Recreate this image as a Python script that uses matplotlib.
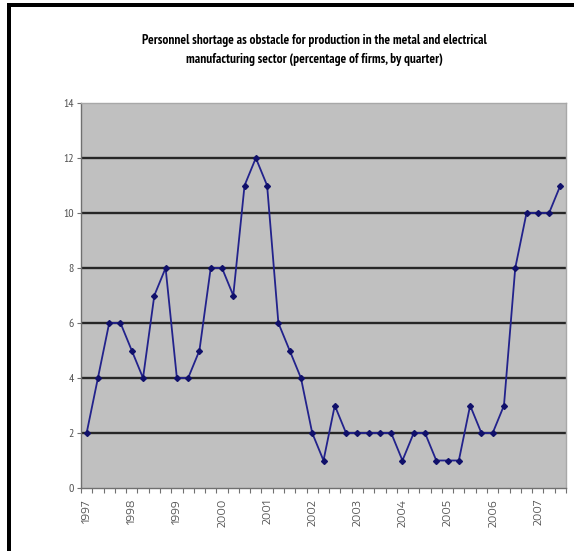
import numpy as np
import matplotlib
matplotlib.use('Agg')
import matplotlib.pyplot as plt
from matplotlib.patches import Rectangle

# share of firms reporting personnel shortage, quarterly 1997Q1 - 2007Q3
shortage = [2, 4, 6, 6, 5, 4, 7, 8, 4, 4, 5, 8, 8, 7, 11, 12, 11,
            6, 5, 4, 2, 1, 3, 2, 2, 2, 2, 2, 1, 2, 2, 1, 1, 1, 3, 2,
            2, 3, 8, 10, 10, 10, 11]
years = ['1997', '1998', '1999', '2000', '2001', '2002', '2003',
         '2004', '2005', '2006', '2007']
yticks = [0, 2, 4, 6, 8, 10, 12, 14]

title = ('Personnel shortage as obstacle for production in the metal and electrical\n'
         'manufacturing sector (percentage of firms, by quarter)')

plt.rcParams['font.family'] = ['PT Sans Narrow', 'DejaVu Sans']

fig = plt.figure(figsize=(5.74, 5.51), dpi=100)
ax = fig.add_axes([81 / 574, 1 - 488 / 551, 485 / 574, 385 / 551])

x = np.arange(len(shortage))
ax.set_facecolor('#c0c0c0')
ax.plot(x, shortage, color='#22228c', linewidth=1.3, marker='D',
        markersize=3, markerfacecolor='#10106a', markeredgecolor='#10106a',
        zorder=3)

ax.set_xlim(-0.5, len(shortage) - 0.5)
ax.set_ylim(0, 14)

# horizontal gridlines, heavy and dark
for v in yticks[1:-1]:
    ax.axhline(v, color='#262626', linewidth=1.7, zorder=1)

ax.set_yticks(yticks)
ax.set_yticklabels([str(v) for v in yticks], fontsize=8.5, color='#505050')
ax.tick_params(axis='y', length=3, width=0.8, color='#707070', pad=2)

# year labels sit under the first quarter of each year
ax.set_xticks(np.arange(0, len(shortage), 4))
ax.set_xticklabels(years, rotation=90, fontsize=7.5, color='#505050',
                   family=['Encode Sans Expanded', 'DejaVu Sans'])
ax.set_xticks(np.arange(-0.5, len(shortage), 1), minor=True)
ax.tick_params(axis='x', which='major', length=0, pad=8)
ax.tick_params(axis='x', which='minor', length=3.5, width=0.8,
               color='#707070')

for side in ['left', 'bottom']:
    ax.spines[side].set_color('#707070')
    ax.spines[side].set_linewidth(1.0)
for side in ['top', 'right']:
    ax.spines[side].set_color('#a8a8a8')
    ax.spines[side].set_linewidth(1.0)

fig.text(314 / 574, 1 - 50 / 551, title, ha='center', va='center',
         fontsize=9.5, fontweight='bold', linespacing=1.55)

# black frame on the top and left edges
fig.add_artist(Rectangle((7 / 574, 0), 4 / 574, 1 - 3 / 551,
                         transform=fig.transFigure, color='black', lw=0))
fig.add_artist(Rectangle((7 / 574, 1 - 7 / 551), 1 - 7 / 574, 4 / 551,
                         transform=fig.transFigure, color='black', lw=0))

fig.savefig('out.png', dpi=100, facecolor='white')
